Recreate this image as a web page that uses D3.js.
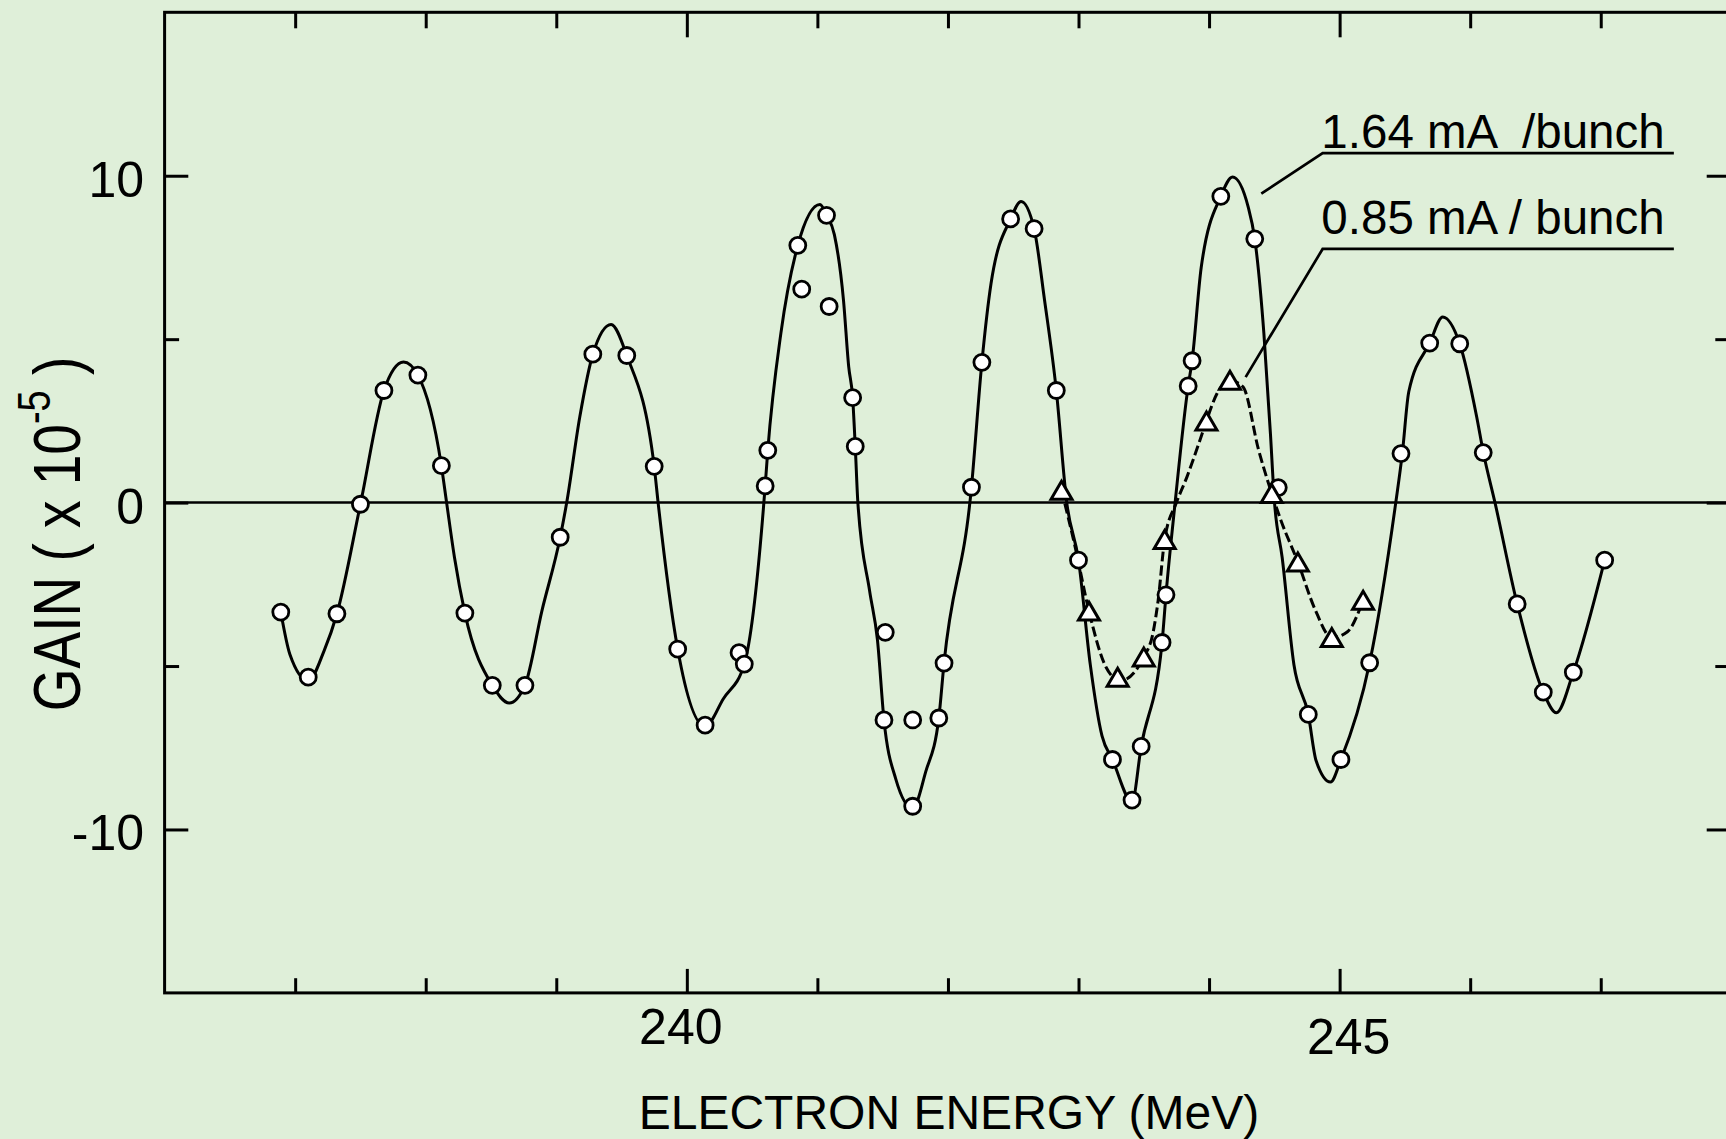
<!DOCTYPE html>
<html>
<head>
<meta charset="utf-8">
<script src="https://cdn.jsdelivr.net/npm/d3@7"></script>
<style>
	html, body { margin: 0; padding: 0; background: #dfefd9; }
	svg { display: block; }
	text { font-family: "Liberation Sans", Arial, sans-serif; fill: #000; }
</style>
</head>
<body>
<div id="gainChart"></div>
<script>

//Measured points, 1.64 mA / bunch (circles)
var circleX = [236.89, 237.10, 237.32, 237.50, 237.68, 237.94, 238.12, 238.30, 238.51, 238.76,
	239.03, 239.28, 239.54, 239.75, 239.93, 240.14, 240.40, 240.44, 240.60, 240.62,
	240.85, 240.88, 241.07, 241.09, 241.27, 241.29, 241.51, 241.52, 241.73, 241.73,
	241.93, 241.97, 242.18, 242.26, 242.48, 242.66, 242.83, 243.00, 243.26, 243.41,
	243.48, 243.64, 243.67, 243.84, 243.87, 244.09, 244.35, 244.53, 244.76, 245.01,
	245.23, 245.47, 245.69, 245.92, 246.10, 246.36, 246.56, 246.79, 247.03];
var circleY = [-3.35, -5.34, -3.40, -0.05, 3.43, 3.90, 1.13, -3.38, -5.59, -5.59,
	-1.06, 4.54, 4.50, 1.11, -4.48, -6.81, -4.59, -4.94, 0.51, 1.60,
	7.87, 6.53, 8.79, 6.00, 3.21, 1.72, -6.65, -3.97, -6.65, -9.29,
	-6.59, -4.91, 0.47, 4.29, 8.68, 8.38, 3.43, -1.76, -7.86, -9.10,
	-7.46, -4.28, -2.82, 3.57, 4.34, 9.37, 8.07, 0.46, -6.48, -7.86,
	-4.90, 1.50, 4.88, 4.86, 1.53, -3.10, -5.80, -5.19, -1.76];

//Measured points, 0.85 mA / bunch (triangles)
var triX = [242.87, 243.08, 243.30, 243.50, 243.66, 243.98, 244.16, 244.48, 244.68, 244.94, 245.18];
var triY = [0.38, -3.32, -5.34, -4.72, -1.13, 2.50, 3.74, 0.28, -1.82, -4.13, -2.99];

//Hand drawn solid curve
var fitX = [236.89, 236.96, 237.10, 237.22, 237.32, 237.50, 237.68, 237.83, 237.94, 238.12,
	238.16, 238.22, 238.30, 238.51, 238.64, 238.76, 238.89, 239.03, 239.08, 239.18,
	239.28, 239.42, 239.54, 239.75, 239.78, 239.93, 240.14, 240.28, 240.44,
	240.60, 240.62, 240.72, 240.85, 241.02, 241.07, 241.13, 241.20, 241.24, 241.27,
	241.29, 241.31, 241.40, 241.46, 241.51, 241.60, 241.73, 241.83, 241.93, 241.97,
	242.18, 242.26, 242.33, 242.48, 242.56, 242.66, 242.74, 242.83, 242.91, 243.00,
	243.09, 243.18, 243.26, 243.41, 243.48, 243.64, 243.67, 243.74, 243.84, 243.87,
	243.94, 244.09, 244.18, 244.30, 244.35, 244.42, 244.47, 244.50, 244.56, 244.65,
	244.76, 244.82, 244.93, 245.01, 245.23, 245.43, 245.48, 245.53, 245.69, 245.79,
	245.92, 246.05, 246.10, 246.19, 246.36, 246.56, 246.66, 246.79, 247.03];
var fitY = [-3.35, -4.65, -5.45, -4.55, -3.40, -0.05, 3.43, 4.30, 3.90, 1.13,
	0.0, -1.67, -3.38, -5.59, -6.13, -5.59, -3.31, -1.06, 0.0, 2.62,
	4.54, 5.45, 4.50, 1.11, 0.0, -4.48, -6.85, -6.0, -4.94,
	0.51, 1.60, 5.17, 7.87, 9.12, 8.79, 8.2, 6.19, 4.15, 3.21,
	1.72, 0.0, -2.7, -4.2, -6.65, -8.45, -9.35, -8.23, -6.59, -4.91,
	0.47, 4.29, 6.70, 8.68, 9.21, 8.38, 6.19, 3.43, 0.0, -1.76,
	-4.95, -7.14, -7.86, -9.15, -7.46, -4.28, -2.82, 0.0, 3.57, 4.34,
	7.20, 9.37, 9.96, 9.04, 8.07, 5.17, 2.11, 0.07, -1.68, -4.96,
	-6.48, -7.9, -8.55, -7.86, -4.90, 0.0, 1.50, 3.4, 4.88, 5.68,
	4.86, 2.62, 1.55, 0.0, -3.10, -5.80, -6.43, -5.19, -1.76];

//Hand drawn dashed curve
var dashX = [242.87, 242.98, 243.08, 243.21, 243.32, 243.44, 243.50, 243.57, 243.61, 243.66,
	243.75, 243.83, 243.93, 243.98, 244.06, 244.16, 244.26, 244.38, 244.48, 244.55,
	244.68, 244.81, 244.94, 245.06, 245.18];
var dashY = [0.38, -1.46, -3.32, -5.03, -5.45, -5.13, -4.72, -4.0, -2.99, -1.13,
	0.0, 0.78, 1.91, 2.50, 3.33, 3.74, 3.54, 1.60, 0.28, -0.54,
	-1.82, -3.25, -4.13, -3.95, -2.99];

//Ticks and labels
var xMajorTicks = [240, 245];
var xMinorTicks = [237, 238, 239, 241, 242, 243, 244, 246, 247];
var yMajorTicks = [10, 0, -10];
var yMinorTicks = [5, -5];
var yTickLabels = ["10", "0", "-10"];
var xTickLabels = ["240", "245"];
var seriesLabels = ["1.64 mA  /bunch", "0.85 mA / bunch"];

//Global variables
var width = 1726;
var height = 1139;
var plotLeft = 164.6, plotRight = 1731.3, plotTop = 12.3, plotBottom = 992.9;
var fontSize = 48;
var tickFontSize = 50;

//Define scales
var xScale = d3.scaleLinear()
	.domain([236, 248])
	.range([plotLeft, plotRight]);

var yScale = d3.scaleLinear()
	.domain([-15, 15])
	.range([plotBottom, plotTop]);

//Create SVG element
var svg = d3.select("#gainChart")
	.append("svg")
	.attr("width", width)
	.attr("height", height);

svg.append("rect")
	.attr("width", width)
	.attr("height", height)
	.attr("fill", "#dfefd9");

//Tick marks on all four sides, pointing inwards
function drawTicks(axisFn, pos, values, size) {
	var g = svg.append("g")
		.attr("transform", pos)
		.call(axisFn.tickValues(values).tickSize(-size).tickSizeOuter(0).tickFormat(""));
	g.select(".domain").remove();
	g.selectAll(".tick line").attr("stroke", "#000").attr("stroke-width", 3);
}
drawTicks(d3.axisBottom(xScale), "translate(0," + plotBottom + ")", xMinorTicks, 14.7);
drawTicks(d3.axisBottom(xScale), "translate(0," + plotBottom + ")", xMajorTicks, 24);
drawTicks(d3.axisTop(xScale), "translate(0," + plotTop + ")", xMinorTicks, 16);
drawTicks(d3.axisTop(xScale), "translate(0," + plotTop + ")", xMajorTicks, 25);
drawTicks(d3.axisLeft(yScale), "translate(" + plotLeft + ",0)", yMinorTicks, 14.5);
drawTicks(d3.axisLeft(yScale), "translate(" + plotLeft + ",0)", yMajorTicks, 23.7);
drawTicks(d3.axisRight(yScale), "translate(" + plotRight + ",0)", yMinorTicks, 16);
drawTicks(d3.axisRight(yScale), "translate(" + plotRight + ",0)", yMajorTicks, 24.6);

//Frame
svg.append("rect")
	.attr("x", plotLeft)
	.attr("y", plotTop)
	.attr("width", plotRight - plotLeft)
	.attr("height", plotBottom - plotTop)
	.attr("fill", "none")
	.attr("stroke", "#000")
	.attr("stroke-width", 3);

//Zero line
svg.append("line")
	.attr("x1", xScale(236))
	.attr("x2", xScale(248))
	.attr("y1", yScale(0))
	.attr("y2", yScale(0))
	.attr("stroke", "#000")
	.attr("stroke-width", 2.5);

//Y tick labels
svg.selectAll("text.yLabel")
	.data(yMajorTicks)
	.enter()
	.append("text")
	.classed("yLabel", true)
	.attr("x", plotLeft - 20.6)
	.attr("y", function(d) { return yScale(d) + 21; })
	.attr("text-anchor", "end")
	.style("font-size", tickFontSize + "px")
	.text(function(d, i) { return yTickLabels[i]; });

//X tick labels (the two labels sit a little off their ticks in the original)
var xLabelNudge = [[-6, 1044], [9, 1054]];
svg.selectAll("text.xLabel")
	.data(xMajorTicks)
	.enter()
	.append("text")
	.classed("xLabel", true)
	.attr("x", function(d, i) { return xScale(d) + xLabelNudge[i][0]; })
	.attr("y", function(d, i) { return xLabelNudge[i][1]; })
	.attr("text-anchor", "middle")
	.style("font-size", tickFontSize + "px")
	.text(function(d, i) { return xTickLabels[i]; });

//Axis titles
svg.append("text")
	.attr("x", 949)
	.attr("y", 1129)
	.attr("text-anchor", "middle")
	.style("font-size", fontSize + "px")
	.text("ELECTRON ENERGY (MeV)");

var yTitle = svg.append("text")
	.attr("transform", "translate(80,534) rotate(-90) scale(1,1.2)")
	.attr("text-anchor", "middle")
	.attr("xml:space", "preserve")
	.style("white-space", "pre")
	.style("font-size", "55px");
yTitle.append("tspan").text("GAIN ( x 10");
yTitle.append("tspan").attr("dy", -25).style("font-size", "38px").text("-5");
yTitle.append("tspan").attr("dy", 25).text(" )");

//Solid curve
var line = d3.line()
	.x(function(d) { return xScale(d[0]); })
	.y(function(d) { return yScale(d[1]); })
	.curve(d3.curveMonotoneX);

svg.append("path")
	.datum(d3.zip(fitX, fitY))
	.attr("d", line)
	.attr("fill", "none")
	.attr("stroke", "#000")
	.attr("stroke-width", 3);

//Dashed curve
svg.append("path")
	.datum(d3.zip(dashX, dashY))
	.attr("d", line)
	.attr("fill", "none")
	.attr("stroke", "#000")
	.attr("stroke-width", 3)
	.attr("stroke-dasharray", "10,4");

//Circles
svg.selectAll("circle.pt")
	.data(d3.zip(circleX, circleY))
	.enter()
	.append("circle")
	.classed("pt", true)
	.attr("cx", function(d) { return xScale(d[0]); })
	.attr("cy", function(d) { return yScale(d[1]); })
	.attr("r", 8)
	.attr("fill", "#fff")
	.attr("stroke", "#000")
	.attr("stroke-width", 2.8);

//Triangles
var triSide = 21, triH = 18;
svg.selectAll("path.tri")
	.data(d3.zip(triX, triY))
	.enter()
	.append("path")
	.classed("tri", true)
	.attr("d", function(d) {
		var cx = xScale(d[0]), cy = yScale(d[1]);
		return "M" + cx + "," + (cy - triH / 2) +
			"L" + (cx + triSide / 2) + "," + (cy + triH / 2) +
			"L" + (cx - triSide / 2) + "," + (cy + triH / 2) + "Z";
	})
	.attr("fill", "#fff")
	.attr("stroke", "#000")
	.attr("stroke-width", 3)
	.attr("stroke-linejoin", "miter");

//Labels with leaders: [text baseline, underline y, leader end x, leader end y]
var labelX = xScale(244.86);
var underlineX1 = xScale(244.87), underlineX2 = xScale(247.56);
var leaders = [[yScale(10.85), yScale(10.69), xScale(244.40), yScale(9.45)],
	[yScale(8.23), yScale(7.76), xScale(244.28), yScale(3.84)]];

leaders.forEach(function(l, i) {
	svg.append("text")
		.attr("x", labelX)
		.attr("y", l[0])
		.attr("xml:space", "preserve")
		.style("white-space", "pre")
		.style("font-size", "47.5px")
		.text(seriesLabels[i]);
	svg.append("polyline")
		.attr("points", [[l[2], l[3]], [underlineX1, l[1]], [underlineX2, l[1]]].join(" "))
		.attr("fill", "none")
		.attr("stroke", "#000")
		.attr("stroke-width", 2.7);
});

</script>
</body>
</html>
